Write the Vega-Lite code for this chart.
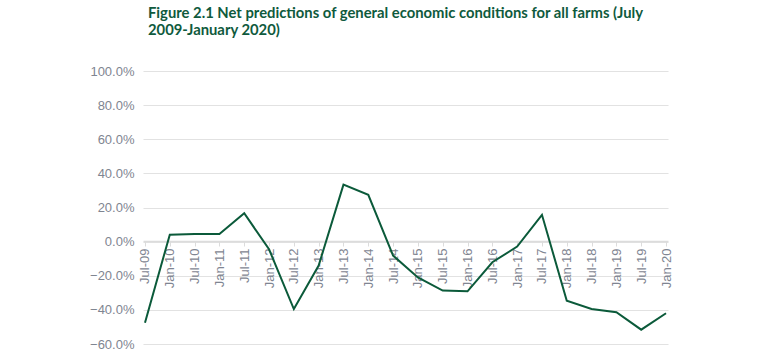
{
  "$schema": "https://vega.github.io/schema/vega-lite/v6.json",
  "autosize": "none",
  "width": 525,
  "height": 273,
  "padding": {"left": 143, "top": 71, "right": 92, "bottom": 15},
  "background": "white",
  "title": {
    "text": ["Figure 2.1 Net predictions of general economic conditions for all farms (July", "2009-January 2020)"],
    "anchor": "start",
    "frame": "group",
    "dx": 5,
    "offset": 27,
    "font": "Lato",
    "fontSize": 14.8,
    "fontWeight": "bold",
    "color": "#0f5a3d",
    "lineHeight": 17
  },
  "config": {"view": {"stroke": null}},
  "data": {
    "values": [
      {"period": "Jul-09", "value": -47.5},
      {"period": "Jan-10", "value": 4.1},
      {"period": "Jul-10", "value": 4.5},
      {"period": "Jan-11", "value": 4.5},
      {"period": "Jul-11", "value": 16.6},
      {"period": "Jan-12", "value": -4.5},
      {"period": "Jul-12", "value": -39.5},
      {"period": "Jan-13", "value": -14},
      {"period": "Jul-13", "value": 33.4},
      {"period": "Jan-14", "value": 27.4},
      {"period": "Jul-14", "value": -8.2},
      {"period": "Jan-15", "value": -21},
      {"period": "Jul-15", "value": -28.7},
      {"period": "Jan-16", "value": -29.1},
      {"period": "Jul-16", "value": -12.1},
      {"period": "Jan-17", "value": -2.9},
      {"period": "Jul-17", "value": 15.7},
      {"period": "Jan-18", "value": -34.6},
      {"period": "Jul-18", "value": -39.5},
      {"period": "Jan-19", "value": -41.4},
      {"period": "Jul-19", "value": -51.6},
      {"period": "Jan-20", "value": -42}
    ]
  },
  "mark": {"type": "line", "color": "#0b5a3a", "strokeWidth": 2},
  "encoding": {
    "x": {
      "field": "period",
      "type": "ordinal",
      "sort": null,
      "scale": {"type": "point", "padding": 0.08},
      "axis": {
        "title": null,
        "offset": -103,
        "labelAngle": -90,
        "labelAlign": "right",
        "labelBaseline": "middle",
        "labelFont": "Liberation Sans",
        "labelFontSize": 13,
        "labelColor": "#7f8591",
        "labelPadding": 2,
        "domainColor": "#dcdcdc",
        "domainWidth": 1.5,
        "tickColor": "#dcdcdc",
        "tickSize": 5,
        "grid": false,
        "zindex": 0
      }
    },
    "y": {
      "field": "value",
      "type": "quantitative",
      "scale": {"domain": [-60, 100], "nice": false},
      "axis": {
        "title": null,
        "values": [-60, -40, -20, 0, 20, 40, 60, 80, 100],
        "labelExpr": "format(datum.value, '.1f') + '%'",
        "labelFont": "Liberation Sans",
        "labelFontSize": 13,
        "labelColor": "#7f8591",
        "labelPadding": 9,
        "domain": false,
        "ticks": false,
        "grid": true,
        "gridColor": "#e2e2e2",
        "gridWidth": 1.2
      }
    }
  }
}
